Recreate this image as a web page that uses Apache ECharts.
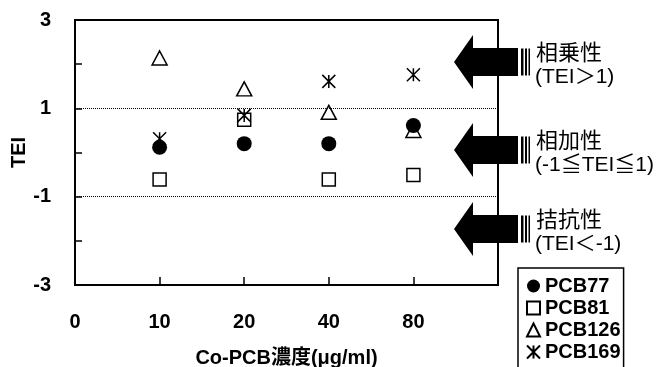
<!DOCTYPE html>
<html>
<head>
<meta charset="utf-8">
<script src="https://cdn.jsdelivr.net/npm/echarts@6/dist/echarts.min.js"></script>
<style>
html,body{margin:0;padding:0;background:#fff;}
#c{width:665px;height:367px;}
</style>
</head>
<body>
<div id="c"></div>
<script>
// ---- data ----
const xLabels = ['0', '10', '20', '40', '80'];
const concentrations = ['10', '20', '40', '80'];
const pcb77 = [0.12, 0.20, 0.20, 0.61];
const pcb81 = [-0.61, 0.74, -0.61, -0.51];
const pcb126 = [2.14, 1.44, 0.91, 0.50];
const pcb169 = [0.31, 0.84, 1.61, 1.76];
const seriesNames = ['PCB77', 'PCB81', 'PCB126', 'PCB169'];
const yTickLabels = [3, 1, -1, -3];
const thresholds = [1, -1];
const zones = [
  {title: '相乗性', cond: '(TEI＞1)'},
  {title: '相加性', cond: '(-1≦TEI≦1)'},
  {title: '拮抗性', cond: '(TEI＜-1)'}
];

const FONT = '"Liberation Sans", Arial, "Noto Sans CJK JP", sans-serif';
const toPts = arr => arr.map((v, i) => [xLabels.indexOf(concentrations[i]), v]);
const asterisk = 'path://M0,0L10,10M10,0L0,10M5,0L5,10';

const chart = echarts.init(document.getElementById('c'), null, {renderer: 'canvas'});

const option = {
  animation: false,
  backgroundColor: '#fff',
  grid: {left: 75, right: 167, top: 20, bottom: 82, containLabel: false, outerBoundsMode: 'none',
    show: true, borderColor: '#000', borderWidth: 2, backgroundColor: 'transparent'},
  xAxis: {
    type: 'value', min: 0, max: 5, interval: 1,
    axisLine: {show: true, onZero: false, lineStyle: {color: '#000', width: 2}},
    axisTick: {show: true, inside: true, length: 8, lineStyle: {color: '#000', width: 1.5}},
    splitLine: {show: false},
    axisLabel: {
      margin: 27, color: '#000', fontSize: 20, fontWeight: 'bold', fontFamily: FONT,
      formatter: v => (xLabels[v] !== undefined ? xLabels[v] : '')
    },
    name: 'Co-PCB濃度(μg/ml)', nameLocation: 'middle', nameGap: 63, nameMoveOverlap: false,
    nameTextStyle: {color: '#000', fontSize: 20, fontWeight: 'bold', fontFamily: FONT}
  },
  yAxis: {
    type: 'value', min: -3, max: 3, interval: 1,
    axisLine: {show: true, onZero: false, lineStyle: {color: '#000', width: 2}},
    axisTick: {show: true, inside: true, length: 7, lineStyle: {color: '#000', width: 1.5}},
    splitLine: {show: false},
    axisLabel: {
      margin: 24, color: '#000', fontSize: 20, fontWeight: 'bold', fontFamily: FONT,
      formatter: v => (yTickLabels.indexOf(v) >= 0 ? String(v) : '')
    },
    name: 'TEI', nameLocation: 'middle', nameGap: 46, nameRotate: 90, nameMoveOverlap: false,
    nameTextStyle: {color: '#000', fontSize: 20, fontWeight: 'bold', fontFamily: FONT}
  },
  legend: {
    orient: 'vertical', left: 518, top: 268, height: 160,
    padding: [8, 3, 24, 8], itemGap: 2, itemWidth: 13, itemHeight: 13,
    borderColor: '#000', borderWidth: 1.5, backgroundColor: '#fff',
    data: seriesNames,
    textStyle: {color: '#000', fontSize: 20, fontWeight: 'bold', fontFamily: FONT, lineHeight: 20}
  },
  series: [
    {
      name: 'PCB77', type: 'scatter', z: 5, data: toPts(pcb77),
      symbol: 'circle', symbolSize: 15,
      itemStyle: {color: '#000', opacity: 1},
      markLine: {
        silent: true, symbol: 'none', label: {show: false},
        lineStyle: {color: '#000', type: 'dotted', width: 1},
        data: thresholds.map(t => ({yAxis: t}))
      }
    },
    {
      name: 'PCB81', type: 'scatter', z: 2, data: toPts(pcb81),
      symbol: 'rect', symbolSize: 13,
      itemStyle: {color: '#fff', borderColor: '#000', borderWidth: 1.5, opacity: 1}
    },
    {
      name: 'PCB126', type: 'scatter', z: 3, data: toPts(pcb126),
      symbol: 'triangle', symbolSize: [15, 14],
      itemStyle: {color: 'rgba(255,255,255,0)', borderColor: '#000', borderWidth: 1.5, opacity: 1}
    },
    {
      name: 'PCB169', type: 'scatter', z: 4, data: toPts(pcb169),
      symbol: asterisk, symbolSize: 13,
      itemStyle: {color: 'rgba(0,0,0,0)', borderColor: '#000', borderWidth: 1.5, opacity: 1}
    }
  ]
};
chart.setOption(option);

// ---- annotation arrows (zone indicators) ----
const arrowCenters = [62, 150, 229];
const graphics = [];
arrowCenters.forEach((cy, i) => {
  graphics.push({
    type: 'polygon', z: 100,
    shape: {points: [[454, cy], [473, cy - 27], [473, cy - 14], [518, cy - 14], [518, cy + 14], [473, cy + 14], [473, cy + 27]]},
    style: {fill: '#000'}
  });
  [[521, 2.5], [525, 2], [528.5, 1.5]].forEach(([x, w]) => {
    graphics.push({type: 'rect', z: 100, shape: {x: x, y: cy - 13.5, width: w, height: 27}, style: {fill: '#000'}});
  });
  graphics.push({
    type: 'text', z: 100, left: 536, top: cy - 21,
    style: {text: zones[i].title, font: '22px "Noto Sans CJK JP", sans-serif', fill: '#000'}
  });
  graphics.push({
    type: 'text', z: 100, left: 535, top: cy + 5,
    style: {text: zones[i].cond, font: '21px "Liberation Sans", Arial, "Noto Sans CJK JP", sans-serif', fill: '#000'}
  });
});
chart.setOption({graphic: graphics});
</script>
</body>
</html>
